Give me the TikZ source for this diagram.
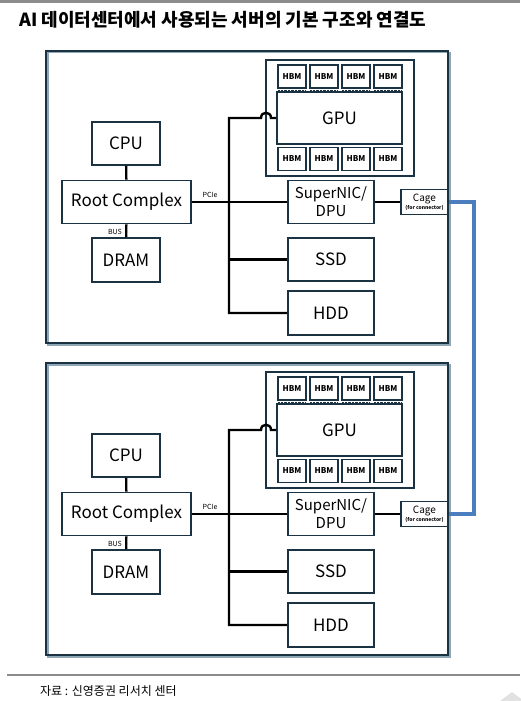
\documentclass[tikz,border=0pt]{standalone}
\usepackage{fontspec}
\setmainfont{Noto Sans CJK KR}
\definecolor{navy}{HTML}{1B3242}
\definecolor{shadecol}{HTML}{8FA6B6}
\definecolor{wireblue}{HTML}{4A7EBF}
\definecolor{rulegray}{HTML}{8C8C8C}
\definecolor{cornergray}{HTML}{E2E2E2}
\tikzset{
  box/.style={draw=navy, line width=1.6pt, fill=white, inner sep=0pt, align=center, font=\fontsize{17}{19}\selectfont},
  hbm/.style={draw=navy, line width=1.9pt, fill=white, inner sep=0pt, minimum width=28pt, minimum height=23pt, font=\bfseries\fontsize{8}{9}\selectfont},
  wire/.style={line width=2.4pt, black, line join=miter},
  bluewire/.style={line width=3.6pt, wireblue, line join=miter},
  hbmlink/.style={line width=2pt, navy, dash pattern=on 0.7pt off 0.7pt},
  small/.style={inner sep=0pt, font=\fontsize{7}{8}\selectfont}
}
\begin{document}
\begin{tikzpicture}[x=1pt,y=-1pt]
\useasboundingbox (0,0) rectangle (520,701);
% top and bottom rules
\draw[rulegray, line width=3pt] (0,1.5) -- (520,1.5);
\draw[rulegray, line width=2.6pt] (7,675) -- (520,675);
\fill[cornergray] (500,701) -- (512,692) -- (524,701) -- cycle;
\node[anchor=center, font=\fontsize{16}{18}\selectfont] (paren) at (-2,114) {)};
% title
\node[anchor=base west, inner sep=0pt, font=\bfseries\fontsize{18}{20}\selectfont] (title) at (19,27) {AI 데이터센터에서 사용되는 서버의 기본 구조와 연결도};
% footer
\node[anchor=base west, inner sep=0pt, font=\fontsize{12}{14}\selectfont] (source) at (40,695) {자료 : 신영증권 리서치 센터};

\foreach \s/\dy in {1/0pt,2/312pt}{
\begin{scope}[yshift=-\dy]
  % server outline
  \draw[shadecol, line width=1.4pt] (47.8,52.8) rectangle (449.8,344.8);
  \node[draw=navy, line width=2.2pt, inner sep=0pt, minimum width=402pt, minimum height=292pt] (srv\s) at (247,197) {};
  % CPU side
  \node[box, minimum width=68pt, minimum height=43pt] (cpu\s) at (126,143.5) {CPU};
  \node[box, minimum width=129pt, minimum height=43pt] (rc\s) at (126.5,202) {Root Complex};
  \node[box, minimum width=68pt, minimum height=44pt] (dram\s) at (126,260) {DRAM};
  \draw[wire] (cpu\s) -- (rc\s);
  \draw[wire] (rc\s) -- (dram\s);
  \node[small, anchor=east] (bus\s) at (122,232) {BUS};
  % GPU package
  \node[draw=navy, line width=1.8pt, fill=white, inner sep=0pt, minimum width=148pt, minimum height=116pt] (pkg\s) at (340,118) {};
  \node[box, line width=2pt, minimum width=125pt, minimum height=52pt] (gpu\s) at (339.5,118) {GPU};
  \foreach \i in {0,1,2,3}{
    \node[hbm] (hbmt\s\i) at (292+32*\i,76.5) {HBM};
    \node[hbm] (hbmb\s\i) at (292+32*\i,159) {HBM};
    \draw[hbmlink] ([xshift=1pt,yshift=-2.4pt]hbmt\s\i.south west) -- ([xshift=-1pt,yshift=-2.4pt]hbmt\s\i.south east);
    \draw[hbmlink] ([xshift=1pt,yshift=2.4pt]hbmb\s\i.north west) -- ([xshift=-1pt,yshift=2.4pt]hbmb\s\i.north east);
  }
  % peripherals
  \node[box, minimum width=86pt, minimum height=43pt, font=\fontsize{15}{18}\selectfont] (nic\s) at (331,202) {SuperNIC/\\DPU};
  \node[box, minimum width=86pt, minimum height=43pt] (ssd\s) at (331,259.5) {SSD};
  \node[box, minimum width=86pt, minimum height=44pt] (hdd\s) at (331,313) {HDD};
  \node[box, line width=1.5pt, minimum width=47pt, minimum height=25pt, font=\fontsize{10}{9}\selectfont] (cage\s) at (424.5,202) {Cage\\[-1pt]{\bfseries\fontsize{5}{5}\selectfont (for connector)}};
  % PCIe tree
  \coordinate (bt\s) at (229,118);
  \draw[wire] (rc\s.east) -- (nic\s.west);
  \node[small] (pcie\s) at (210,195) {PCIe};
  \draw[wire] (gpu\s.west) -- (271,118) .. controls (271,111) and (261,111) .. (261,118) -- (bt\s) |- (hdd\s.west);
  \draw[wire] (ssd\s.west -| bt\s) -- (ssd\s.west);
  \draw[wire] (nic\s.east) -- (cage\s.west);
\end{scope}
}
% inter-server link
\draw[bluewire] (cage1.east) -- ++(25,0) |- (cage2.east);
\end{tikzpicture}
\end{document}
